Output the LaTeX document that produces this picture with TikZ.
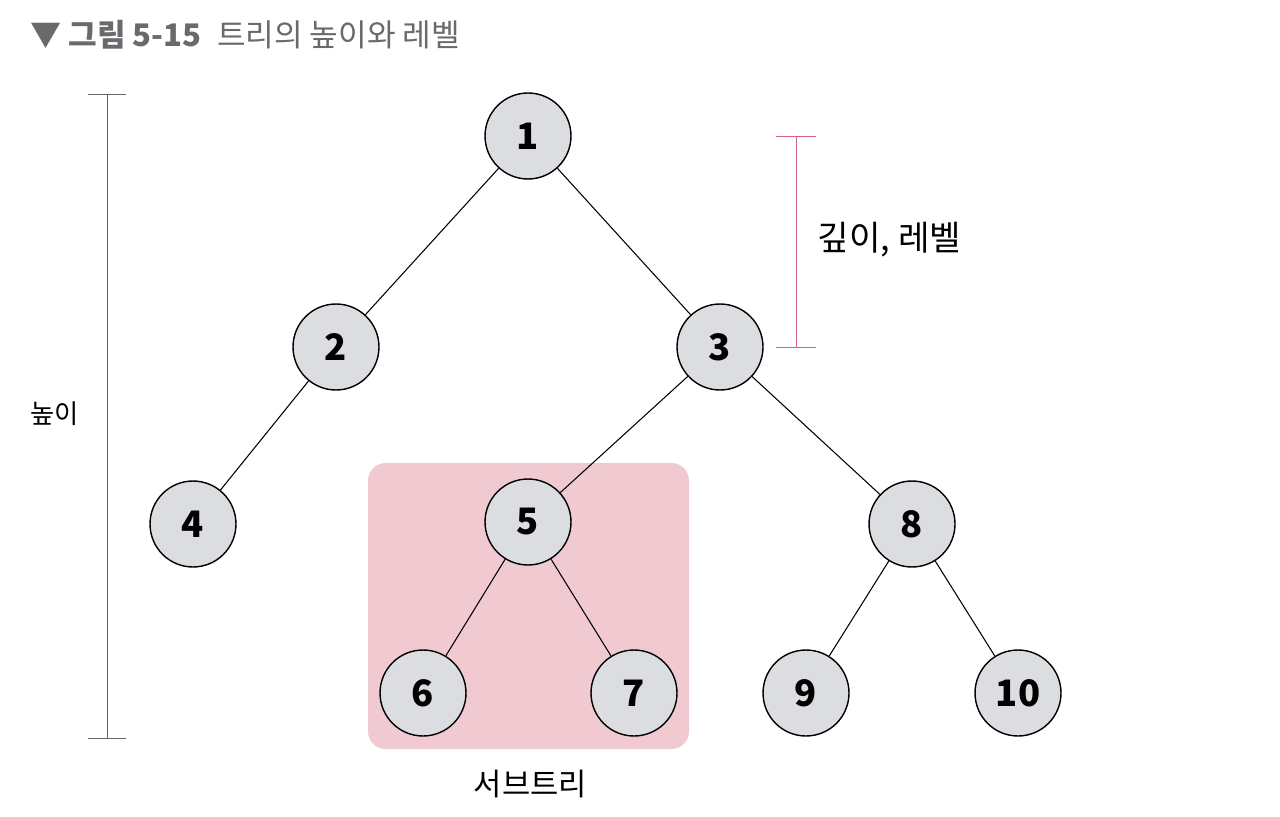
\documentclass[tikz,border=0pt]{standalone}
\usepackage{fontspec}
\setmainfont{Noto Sans CJK KR}
\usepackage{tikz}
\usetikzlibrary{positioning}
\definecolor{nodegray}{RGB}{220,221,224}
\definecolor{subpink}{RGB}{240,201,209}
\definecolor{barpink}{RGB}{212,98,126}
\definecolor{titlegray}{RGB}{105,105,110}
\newcommand{\stdradius}{0.86cm}
\newcommand{\labelfont}[1]{\fontsize{#1}{#1}\selectfont}
\tikzset{
    treenode/.style={circle, draw, thick, fill=nodegray, minimum size=2*\stdradius, inner sep=0pt, font=\huge\bfseries},
    edge/.style={draw, semithick},
}

\begin{document}
\begin{tikzpicture}[x=0.02cm, y=-0.02cm]
        \useasboundingbox (0,0) rectangle (1280,817);
        \node[anchor=west, text=titlegray, font=\labelfont{17.7}, inner sep=0pt] (title) at (30,35)
        { \textbf{▼ 그림 5-15}\enspace 트리의 높이와 레벨 };

        % subtree box
        \fill[subpink, rounded corners=10pt] (368,463) rectangle (689,749);
        \node (subtree) at (527,784) { \labelfont{17.5} 서브트리 };

        \node[treenode] (n1) at (528,136) {1};
        \node[treenode] (n2) at (336,347) {2};
        \node[treenode] (n3) at (720,347) {3};
        \node[treenode] (n4) at (193,524) {4};
        \node[treenode] (n5) at (528,522) {5};
        \node[treenode] (n8) at (912,524) {8};
        \node[treenode] (n6) at (423,693) {6};
        \node[treenode] (n7) at (634,693) {7};
        \node[treenode] (n9) at (806,693) {9};
        \node[treenode] (n10) at (1018,693) {10};

        \draw[edge] (n1) -- (n2);
        \draw[edge] (n1) -- (n3);
        \draw[edge] (n2) -- (n4);
        \draw[edge] (n3) -- (n5);
        \draw[edge] (n3) -- (n8);
        \draw[edge] (n5) -- (n6);
        \draw[edge] (n5) -- (n7);
        \draw[edge] (n8) -- (n9);
        \draw[edge] (n8) -- (n10);

        % height bar
        \coordinate (htop) at (107,94);
        \coordinate (hbot) at (107,738);
        \draw[gray!80!black] (htop) -- (hbot);
        \draw[gray!80!black] (htop) ++(-19,0) -- ++(38,0);
        \draw[gray!80!black] (hbot) ++(-19,0) -- ++(38,0);
        \node (height) at (52,414) { \labelfont{15} 높이 };

        % depth bar
        \coordinate (dtop) at (796,136);
        \coordinate (dbot) at (796,347);
        \draw[barpink] (dtop) -- (dbot);
        \draw[barpink] (dtop) ++(-20,0) -- ++(40,0);
        \draw[barpink] (dbot) ++(-20,0) -- ++(40,0);
        \node[anchor=west] (depth) at (804,240) { \labelfont{19.5} 깊이, 레벨 };
    \end{tikzpicture}
\end{document}
